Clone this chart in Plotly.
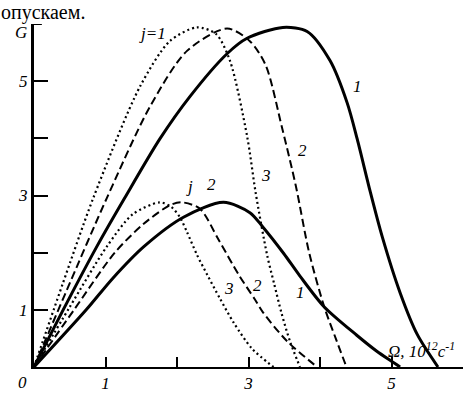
import plotly.graph_objects as go

# ---- data (Omega in 10^12 c^-1, G) ----
# upper group (j=1)
up1_x = [0, 0.45, 0.88, 1.27, 1.76, 2.18, 2.70, 2.98, 3.48, 3.82, 4.14, 4.38, 4.52, 4.70, 4.87, 5.12, 5.36, 5.65]
up1_y = [0, 1.10, 2.11, 2.96, 3.99, 4.73, 5.48, 5.75, 5.94, 5.87, 5.36, 4.62, 3.99, 3.08, 2.28, 1.30, 0.57, 0.0]
up2_x = [0, 0.45, 1.02, 1.62, 2.14, 2.70, 3.02, 3.24, 3.47, 3.66, 3.85, 4.06, 4.22, 4.37]
up2_y = [0, 1.32, 2.96, 4.55, 5.53, 5.92, 5.70, 5.28, 4.18, 3.18, 1.99, 1.05, 0.50, 0.0]
up3_x = [0, 0.40, 0.83, 1.48, 1.90, 2.28, 2.55, 2.74, 2.98, 3.10, 3.26, 3.36, 3.46, 3.58, 3.72]
up3_y = [0, 1.45, 2.96, 4.90, 5.70, 5.94, 5.82, 5.36, 4.04, 3.05, 1.96, 1.45, 0.95, 0.45, 0.0]
# lower group (j=2)
lo1_x = [0, 0.73, 1.10, 1.54, 2.09, 2.65, 3.02, 3.20, 3.49, 3.72, 4.06, 4.51, 4.79, 5.00, 5.12]
lo1_y = [0, 1.00, 1.55, 2.11, 2.62, 2.88, 2.70, 2.45, 1.99, 1.59, 1.05, 0.56, 0.28, 0.10, 0.0]
lo2_x = [0, 0.56, 1.13, 1.53, 1.90, 2.07, 2.32, 2.58, 2.86, 3.09, 3.20, 3.54, 3.96]
lo2_y = [0, 1.00, 2.00, 2.50, 2.83, 2.88, 2.77, 2.23, 1.62, 1.18, 0.96, 0.45, 0.0]
lo3_x = [0, 0.50, 1.02, 1.38, 1.76, 1.92, 2.04, 2.14, 2.28, 2.42, 2.60, 2.79, 3.05, 3.35]
lo3_y = [0, 1.05, 2.11, 2.67, 2.88, 2.80, 2.62, 2.36, 1.96, 1.62, 1.20, 0.78, 0.32, 0.0]

x_tick_vals = [1, 3, 5]
x_tick_text = ["1", "3", "5"]
x_minor_vals = [2, 4]
y_tick_vals = [1, 3, 5]
y_tick_text = ["1", "3", "5"]
y_minor_vals = [2, 4]

curve_labels = ["j=1", "1", "2", "3", "j", "2", "3", "2", "1"]
label_pos_x = [1.66, 4.52, 3.76, 3.24, 2.17, 2.48, 2.73, 3.13, 3.73]
label_pos_y = [5.84, 4.90, 3.78, 3.35, 3.16, 3.20, 1.37, 1.43, 1.31]

FONT = "Liberation Serif, Times New Roman, Times, serif"

fig = go.Figure()
series = [
    (up1_x, up1_y, "solid", 3),
    (up2_x, up2_y, "8px,4px", 2),
    (up3_x, up3_y, "2px,3px", 2.2),
    (lo1_x, lo1_y, "solid", 3),
    (lo2_x, lo2_y, "8px,4px", 2),
    (lo3_x, lo3_y, "2px,3px", 2.2),
]
for xs, ys, dash, w in series:
    fig.add_trace(go.Scatter(x=xs, y=ys, mode="lines",
                             line=dict(color="black", width=w, dash=dash,
                                       shape="spline", smoothing=0.8),
                             showlegend=False, hoverinfo="skip"))

ital = dict(family=FONT, size=17, color="black", style="italic")
ann = []
for t, lx, ly in zip(curve_labels, label_pos_x, label_pos_y):
    ann.append(dict(x=lx, y=ly, text=t, showarrow=False, font=ital))
ann.append(dict(x=0, y=0, text="0", showarrow=False, xshift=-12, yshift=-15, font=ital))
ann.append(dict(x=0, y=6, text="G", showarrow=False, xshift=-13, yshift=-8, font=ital))
ann.append(dict(x=4.92, y=0.30, text="Ω, 10<sup>12</sup>c<sup>-1</sup>", showarrow=False,
                xanchor="left",
                font=dict(family=FONT, size=17, color="black", style="italic")))
ann.append(dict(x=-34 / 429, y=1 + 24 / 349, xref="paper", yref="paper", text="опускаем.",
                showarrow=False, xanchor="left", yanchor="top", borderpad=0,
                font=dict(family=FONT, size=20, color="black")))

fig.add_shape(type="line", x0=0, x1=0.11, y0=6, y1=6, xref="x", yref="y",
              line=dict(color="black", width=2))

fig.update_layout(
    width=464, height=394,
    margin=dict(l=34, r=1, t=24, b=21),
    paper_bgcolor="white", plot_bgcolor="white",
    annotations=ann,
    xaxis=dict(range=[0, 6], showgrid=False, zeroline=False, showline=True,
               linecolor="black", linewidth=2, ticks="inside", ticklen=10,
               tickwidth=2, tickcolor="black", tickvals=x_tick_vals,
               ticktext=x_tick_text, tickfont=ital,
               minor=dict(tickvals=x_minor_vals, ticks="inside", ticklen=10,
                          tickwidth=2, tickcolor="black", showgrid=False)),
    yaxis=dict(range=[0, 6], showgrid=False, zeroline=False, showline=True,
               linecolor="black", linewidth=3, ticks="inside", ticklen=14,
               tickwidth=2, tickcolor="black", tickvals=y_tick_vals,
               ticktext=y_tick_text, tickfont=ital,
               minor=dict(tickvals=y_minor_vals, ticks="inside", ticklen=14,
                          tickwidth=2, tickcolor="black", showgrid=False)),
)
fig.write_html("out.html", config={"displayModeBar": False},
               post_script="document.body.style.margin='0';document.body.style.overflow='hidden';")
